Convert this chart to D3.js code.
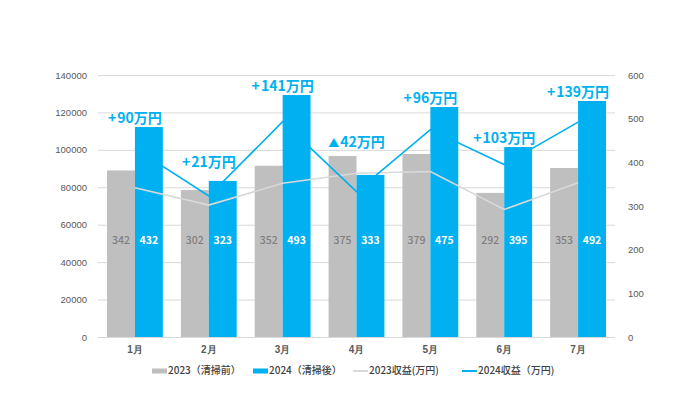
<!DOCTYPE html>
<html>
<head>
<meta charset="utf-8">
<script src="https://cdn.jsdelivr.net/npm/d3@7"></script>
<style>
  body { margin: 0; background: #fff; }
  svg { display: block; font-family: "Noto Sans CJK JP", "Noto Sans", sans-serif; }
  .tick text { fill: #595959; font-size: 9.5px; }
</style>
</head>
<body>
<svg id="chart" width="698" height="396"></svg>
<script>
// data
var months = ["1月", "2月", "3月", "4月", "5月", "6月", "7月"];
var bars2023 = [89000, 78500, 91500, 96700, 97800, 77000, 90300];
var bars2024 = [112200, 83400, 129300, 86600, 122900, 101500, 126100];
var rev2023 = [342, 302, 352, 375, 379, 292, 353];
var rev2024 = [432, 323, 493, 333, 475, 395, 492];
var diffLabels = ["+90万円", "+21万円", "+141万円", "▲42万円", "+96万円", "+103万円", "+139万円"];
var diffLift = [0, 10, 0, 24, 0, 0, 0];
var leftTicks = [0, 20000, 40000, 60000, 80000, 100000, 120000, 140000];
var rightTicks = [0, 100, 200, 300, 400, 500, 600];

var blue = "#00b0f0", grey = "#bfbfbf", lightGrey = "#d9d9d9";

var svg = d3.select("#chart");
var plotL = 98, plotR = 615, plotT = 75, plotB = 337;

var x = d3.scaleBand().domain(months).range([plotL, plotR]).paddingInner(0).paddingOuter(0);
var yL = d3.scaleLinear().domain([0, 140000]).range([plotB, plotT]);
var yR = d3.scaleLinear().domain([0, 600]).range([plotB, plotT]);
var barW = x.bandwidth() * 0.378;

// gridlines
svg.append("g").selectAll("line").data(leftTicks).join("line")
    .attr("x1", plotL).attr("x2", plotR)
    .attr("y1", function(d) { return yL(d) + 0.5; })
    .attr("y2", function(d) { return yL(d) + 0.5; })
    .attr("stroke", lightGrey).attr("stroke-width", 1);

// axes
var axL = svg.append("g").attr("transform", "translate(" + (plotL - 8) + ",0)")
    .call(d3.axisLeft(yL).tickValues(leftTicks).tickSize(0).tickFormat(d3.format("d")));
axL.select(".domain").remove();

var axR = svg.append("g").attr("transform", "translate(" + (plotR + 10) + ",0)")
    .call(d3.axisRight(yR).tickValues(rightTicks).tickSize(0));
axR.select(".domain").remove();

var axB = svg.append("g").attr("transform", "translate(0," + plotB + ")")
    .call(d3.axisBottom(x).tickSize(0).tickPadding(9));
axB.select(".domain").remove();
axB.selectAll("text").style("font-size", "10px").style("font-weight", "bold").style("fill", "#595959");

// bars
svg.append("g").selectAll("rect").data(months).join("rect")
    .attr("x", function(d) { return x(d) + x.bandwidth() / 2 - barW; })
    .attr("y", function(d, i) { return yL(bars2023[i]); })
    .attr("width", barW)
    .attr("height", function(d, i) { return plotB - yL(bars2023[i]); })
    .attr("fill", grey);

svg.append("g").selectAll("rect").data(months).join("rect")
    .attr("x", function(d) { return x(d) + x.bandwidth() / 2; })
    .attr("y", function(d, i) { return yL(bars2024[i]); })
    .attr("width", barW)
    .attr("height", function(d, i) { return plotB - yL(bars2024[i]); })
    .attr("fill", blue);

// revenue lines
var line = d3.line()
    .x(function(d, i) { return x(months[i]) + x.bandwidth() / 2; })
    .y(function(d) { return yR(d); });

svg.append("path").datum(rev2023).attr("d", line)
    .attr("fill", "none").attr("stroke", lightGrey).attr("stroke-width", 1.6);
svg.append("path").datum(rev2024).attr("d", line)
    .attr("fill", "none").attr("stroke", blue).attr("stroke-width", 1.6);

// value labels inside bars
var labelY = yL(51000);
svg.append("g").selectAll("text").data(rev2023).join("text")
    .attr("x", function(d, i) { return x(months[i]) + x.bandwidth() / 2 - barW / 2; })
    .attr("y", labelY)
    .attr("text-anchor", "middle").attr("dominant-baseline", "middle")
    .style("font-size", "10.5px").style("font-weight", "500").style("fill", "#808080")
    .text(function(d) { return d; });

svg.append("g").selectAll("text").data(rev2024).join("text")
    .attr("x", function(d, i) { return x(months[i]) + x.bandwidth() / 2 + barW / 2; })
    .attr("y", labelY)
    .attr("text-anchor", "middle").attr("dominant-baseline", "middle")
    .style("font-size", "10.5px").style("font-weight", "bold").style("fill", "#fff")
    .text(function(d) { return d; });

// difference annotations
var ann = svg.append("g").selectAll("text").data(diffLabels).join("text")
    .attr("x", function(d, i) { return x(months[i]) + x.bandwidth() / 2; })
    .attr("y", function(d, i) { return yL(bars2024[i]) - 4 - diffLift[i]; })
    .attr("text-anchor", "middle")
    .style("font-size", "14px").style("font-weight", "bold").style("fill", blue);
ann.each(function(d) {
  var t = d3.select(this);
  var sign = d.charAt(0), rest = d.slice(1);
  t.append("tspan").style("font-size", sign === "▲" ? "11px" : "14px").text(sign);
  t.append("tspan").attr("dx", 1).text(rest);
});

// legend
var legend = [
  { label: "2023（清掃前）", type: "bar", color: grey, x: 152 },
  { label: "2024（清掃後）", type: "bar", color: blue, x: 253 },
  { label: "2023収益(万円)", type: "line", color: lightGrey, x: 353 },
  { label: "2024収益（万円)", type: "line", color: blue, x: 462 }
];
var lg = svg.append("g").selectAll("g").data(legend).join("g")
    .attr("transform", function(d) { return "translate(" + d.x + ",371)"; });
lg.append("rect")
    .attr("x", 0).attr("width", 15)
    .attr("y", function(d) { return d.type === "bar" ? -2.5 : -1; })
    .attr("height", function(d) { return d.type === "bar" ? 5 : 2; })
    .attr("fill", function(d) { return d.color; });
lg.append("text").attr("x", 16).attr("y", 0)
    .attr("dominant-baseline", "middle")
    .style("font-size", "10px").style("font-weight", "500").style("fill", "#404040")
    .text(function(d) { return d.label; });
</script>
</body>
</html>
